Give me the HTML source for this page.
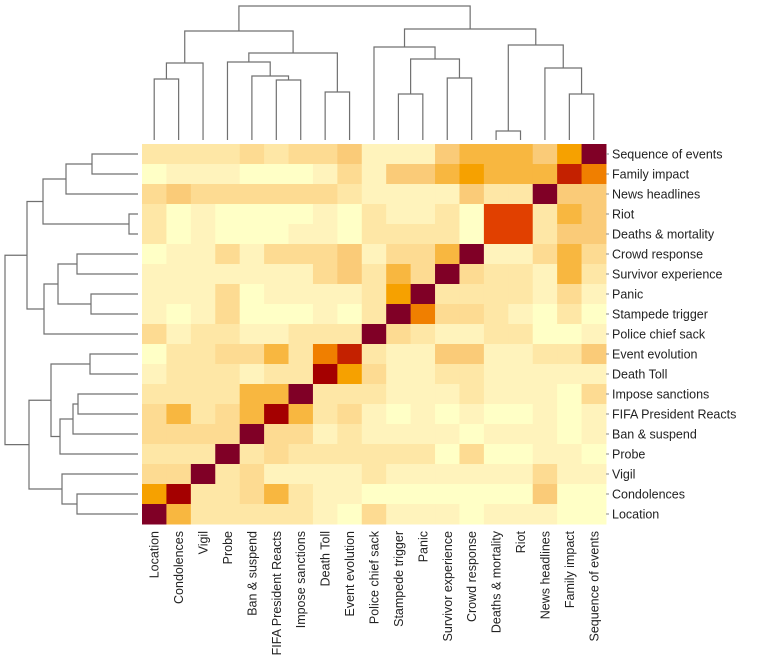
<!DOCTYPE html>
<html><head><meta charset="utf-8">
<style>
html,body{margin:0;padding:0;background:#fff;}
svg{display:block;font-family:"Liberation Sans",Arial,sans-serif;}
</style></head>
<body>
<svg id="chart" width="760" height="670" viewBox="0 0 760 670">
<g id="cells"></g>
<g id="coldend"></g>
<g id="rowdend"></g>
<g id="rowlabels"></g>
<g id="collabels"></g>
</svg>
<script>
const rowLabels=["Sequence of events","Family impact","News headlines","Riot","Deaths & mortality","Crowd response","Survivor experience","Panic","Stampede trigger","Police chief sack","Event evolution","Death Toll","Impose sanctions","FIFA President Reacts","Ban & suspend","Probe","Vigil","Condolences","Location"];
const colLabels=["Location","Condolences","Vigil","Probe","Ban & suspend","FIFA President Reacts","Impose sanctions","Death Toll","Event evolution","Police chief sack","Stampede trigger","Panic","Survivor experience","Crowd response","Deaths & mortality","Riot","News headlines","Family impact","Sequence of events"];
// values per row (levels 0..11, 11 = diagonal)
const values=[
[2,2,2,2,3,2,3,3,4,1,1,1,4,5,5,5,4,6,11],
[0,1,1,1,0,0,0,1,3,1,4,4,5,6,5,5,5,9,7],
[3,4,3,3,3,3,3,3,2,1,1,1,1,4,2,2,11,4,4],
[2,0,1,0,0,0,0,1,0,2,1,1,2,0,8,8,2,5,4],
[2,0,1,0,0,0,1,1,0,2,2,2,2,0,8,8,2,4,4],
[0,1,1,3,1,3,3,3,4,1,3,3,5,11,1,1,3,5,3],
[1,1,1,1,1,1,1,3,4,2,5,3,11,3,2,2,1,5,2],
[1,1,1,3,0,1,1,1,1,2,6,11,2,2,2,2,1,3,1],
[1,0,1,3,0,0,0,1,0,2,11,7,3,3,2,1,0,2,0],
[3,1,2,2,1,1,2,2,2,11,3,2,1,1,2,2,0,0,1],
[0,2,2,3,3,5,2,7,9,2,1,1,4,4,1,1,2,2,4],
[1,2,2,2,1,2,2,10,6,3,1,1,2,2,1,1,1,1,1],
[2,2,2,2,5,5,11,2,2,2,1,1,1,2,1,1,1,0,3],
[3,5,2,3,5,10,5,2,3,1,0,1,0,1,0,0,1,0,1],
[3,3,3,3,11,3,3,1,2,1,1,1,1,0,1,1,1,0,1],
[2,2,2,11,2,3,2,2,2,2,2,2,0,3,0,0,1,1,0],
[3,3,11,2,3,1,1,1,1,2,1,1,1,1,1,1,3,1,1],
[6,10,2,2,3,5,2,1,1,0,0,0,0,0,0,0,4,0,0],
[11,5,2,2,2,2,2,1,0,3,1,1,1,0,1,1,1,0,0]
];
// dendrograms: [left, right, height]; leaves are indices
const colTree=[[[[0,1,79],2,63],[[3,[4,[5,6,80],76],62],[7,8,92],53],31],[[9,[[10,11,94],[12,13,78],59],47],[[14,15,131],[16,[17,18,94],68],45],29],6];
const rowTree=[[[[[0,1,92],2,66],[3,4,129],43],[[[5,6,77],[7,8,91],58],9,44],27],[[[10,11,90],[[[12,13,78],14,73],15,60],51],[16,[17,18,77],62],29],5];
const palette=["#FFFFC6","#FFF3BC","#FEE7A6","#FDDB92","#FACB78","#F8B740","#F6A100","#F07F00","#E14000","#C42100","#A40000","#800026"];

const NS="http://www.w3.org/2000/svg";
const X0=142,Y0=144,CW=24.42,CH=20;
function xs(i){return X0+i*CW;}
function ys(i){return Y0+i*CH;}
function mk(t,a,p){const e=document.createElementNS(NS,t);for(const k in a)e.setAttribute(k,a[k]);p.appendChild(e);return e;}
const cells=document.getElementById('cells');
values.forEach((row,r)=>row.forEach((v,c)=>{
  const e=mk('rect',{x:xs(c).toFixed(2),y:ys(r),width:(CW+0.5).toFixed(2),height:CH+0.5,fill:palette[v]},cells);
  
  
}));
const rl=document.getElementById('rowlabels');
rowLabels.forEach((l,i)=>{
  const t=mk('text',{x:612,y:ys(i)+CH/2+4.5,'font-size':12.5,fill:'#222'},rl);t.textContent=l;
  
  
  mk('line',{x1:606,x2:609,y1:ys(i)+CH/2,y2:ys(i)+CH/2,stroke:'#888'},rl);
});
const cl=document.getElementById('collabels');
colLabels.forEach((l,i)=>{
  const cx=xs(i)+CW/2;
  const t=mk('text',{x:0,y:0,'font-size':12.5,fill:'#222','text-anchor':'end',transform:`translate(${cx+4.5},531) rotate(-90)`},cl);t.textContent=l;
  
  
});
// dendrogram drawing
function drawTree(node,g,pos,hmap,vertical){
  // returns [position, height]
  if(typeof node==='number') return [pos(node),hmap(null)];
  const a=drawTree(node[0],g,pos,hmap,vertical),b=drawTree(node[1],g,pos,hmap,vertical);
  const h=hmap(node[2]);
  let d;
  if(vertical) d=`M${a[0]},${a[1]}V${h}H${b[0]}V${b[1]}`;
  else d=`M${a[1]},${a[0]}H${h}V${b[0]}H${b[1]}`;
  const p=mk('path',{d:d,fill:'none',stroke:'#707070','stroke-width':1.2},g);
  
  
  return [(a[0]+b[0])/2,h];
}
drawTree(colTree,document.getElementById('coldend'),i=>xs(i)+CW/2,h=>h===null?140:h,true);
drawTree(rowTree,document.getElementById('rowdend'),i=>ys(i)+CH/2,h=>h===null?138:h,false);
</script>
</body></html>
